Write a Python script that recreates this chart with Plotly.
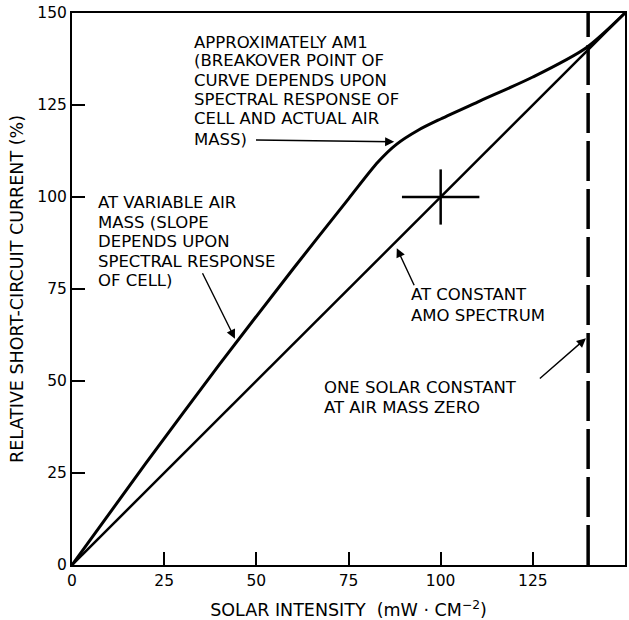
import plotly.graph_objects as go

# Solar intensity (mW/cm^2) and relative short-circuit current (%)
amo_intensity = [0, 150]
amo_current = [0, 150]

var_intensity = [0, 20, 40, 60, 75, 83, 88, 94, 100, 110, 125, 139.4, 150]
var_current = [0, 27.6, 54.5, 80.5, 99.5, 109.5, 114.3, 118.2, 121.2, 125.8, 132.6, 140.5, 150]

# One solar constant at air mass zero
solar_constant = 140
solar_constant_span = [0, 150]

# Reference operating point (100 mW/cm^2 -> 100 %)
ref_point_x = [100]
ref_point_y = [100]
ref_arm_x = [10.5]
ref_arm_y = [7.5]

tick_vals = [0, 25, 50, 75, 100, 125, 150]
tick_text = ["0", "25", "50", "75", "100", "125", "150"]

# Callout texts, one entry per printed line
am1_lines = ["APPROXIMATELY AM1", "(BREAKOVER POINT OF", "CURVE DEPENDS UPON",
             "SPECTRAL RESPONSE OF", "CELL AND ACTUAL AIR", "MASS)"]
variable_lines = ["AT VARIABLE AIR", "MASS (SLOPE", "DEPENDS UPON",
                  "SPECTRAL RESPONSE", "OF CELL)"]
amo_lines = ["AT CONSTANT", "AMO SPECTRUM"]
constant_lines = ["ONE SOLAR CONSTANT", "AT AIR MASS ZERO"]

FONT = "DejaVu Sans"
INK = "black"
LABEL_SIZE = 16.5

fig = go.Figure()

fig.add_trace(go.Scatter(
    x=var_intensity, y=var_current, mode="lines",
    line=dict(color=INK, width=3, shape="spline", smoothing=0.8),
    hoverinfo="skip", showlegend=False))

fig.add_trace(go.Scatter(
    x=amo_intensity, y=amo_current, mode="lines",
    line=dict(color=INK, width=2.5),
    hoverinfo="skip", showlegend=False))

fig.add_trace(go.Scatter(
    x=[solar_constant] * len(solar_constant_span), y=solar_constant_span,
    mode="lines", line=dict(color=INK, width=3.5, dash="40px,8px"),
    hoverinfo="skip", showlegend=False))

fig.add_trace(go.Scatter(
    x=ref_point_x, y=ref_point_y, mode="markers",
    marker=dict(size=1, color=INK),
    error_x=dict(type="data", array=ref_arm_x, color=INK, thickness=2.5, width=0),
    error_y=dict(type="data", array=ref_arm_y, color=INK, thickness=2.5, width=0),
    hoverinfo="skip", showlegend=False))

# Each block: (lines, left x, line centres in y)
blocks = [
    (am1_lines, 32.8, [142.1, 137.0, 131.6, 126.4, 121.4, 115.5]),
    (variable_lines, 6.8, [98.4, 93.0, 87.8, 82.6, 77.4]),
    (amo_lines, 91.7, [73.4, 67.9]),
    (constant_lines, 68.1, [48.1, 42.7]),
]
for lines, x0, ys in blocks:
    for line, yc in zip(lines, ys):
        fig.add_annotation(x=x0, y=yc, xref="x", yref="y", text=line,
                           showarrow=False, xanchor="left", yanchor="middle",
                           align="left", borderpad=0,
                           font=dict(family=FONT, size=LABEL_SIZE, color=INK))

# Leader arrows: (tail x, tail y, head x, head y)
arrows = [
    (49.5, 115.5, 87.4, 115.0),
    (35.2, 79.7, 44.2, 61.5),
    (93.0, 75.6, 88.1, 86.1),
    (126.5, 50.3, 139.4, 61.6),
]
for tx, ty, hx, hy in arrows:
    fig.add_annotation(x=hx, y=hy, ax=tx, ay=ty, xref="x", yref="y", axref="x", ayref="y",
                       text="", showarrow=True, arrowhead=2, arrowsize=1.3,
                       arrowwidth=1.4, arrowcolor=INK)

axis_common = dict(
    range=[0, 150], tickmode="array", tickvals=tick_vals, ticktext=tick_text,
    ticks="inside", ticklen=13, tickwidth=1.5, tickcolor=INK,
    showline=True, linewidth=2, linecolor=INK, mirror=True,
    showgrid=False, zeroline=False, fixedrange=True, automargin=False,
    tickfont=dict(family=FONT, size=15.5, color=INK),
)

fig.update_xaxes(**axis_common,
                 title=dict(text="SOLAR INTENSITY  (mW · CM<sup>−2</sup>)",
                            font=dict(family=FONT, size=17.5, color=INK), standoff=18))
fig.update_yaxes(**axis_common,
                 title=dict(text="RELATIVE SHORT-CIRCUIT CURRENT (%)",
                            font=dict(family=FONT, size=17.5, color=INK), standoff=9))

fig.update_layout(
    width=629, height=620,
    margin=dict(l=72, r=4, t=13, b=55),
    paper_bgcolor="white", plot_bgcolor="white",
    showlegend=False,
)

fig.write_html("out.html")
